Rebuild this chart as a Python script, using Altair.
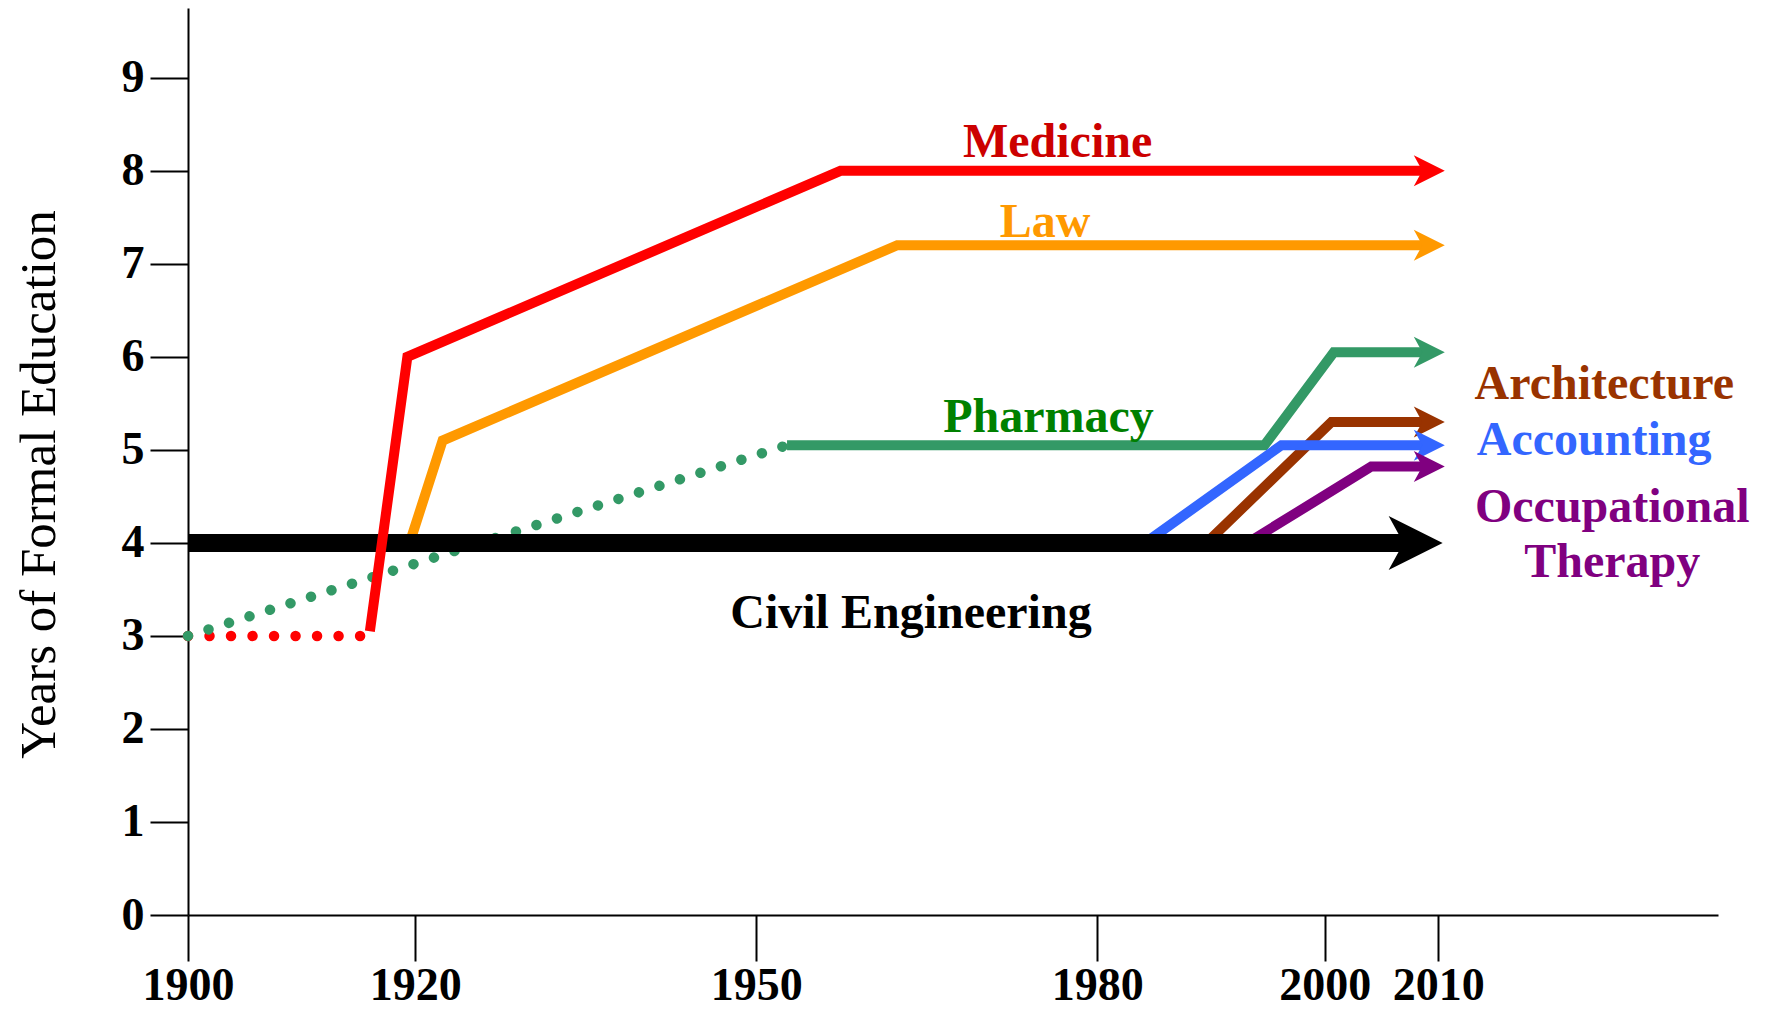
import altair as alt
import pandas as pd

# ---- data ----
series_names = ["Medicine", "Law", "Pharmacy", "Architecture", "Accounting", "Occupational Therapy", "Civil Engineering"]
line_colors = ["#ff0000", "#ff9900", "#339966", "#993300", "#3366ff", "#800080", "#000000"]

med_years = [1916.0, 1919.3, 1957.4, 2009.2]
med_vals = [3.05, 6.0, 8.0, 8.0]
med_dot_years = [1900, 1916.0]
med_dot_vals = [3.0, 3.0]

law_years = [1919.5, 1922.4, 1962.4, 2009.2]
law_vals = [4.0, 5.1, 7.2, 7.2]

pha_years = [1952.7, 1994.7, 2000.8, 2009.2]
pha_vals = [5.05, 5.05, 6.05, 6.05]
pha_dot_years = [1900, 1952.7]
pha_dot_vals = [3.0, 5.05]

arc_years = [1989.6, 2000.6, 2009.2]
arc_vals = [4.0, 5.3, 5.3]

acc_years = [1984.2, 1996.2, 2009.2]
acc_vals = [4.0, 5.05, 5.05]

ot_years = [1993.2, 2004.1, 2009.2]
ot_vals = [4.0, 4.82, 4.82]

civ_years = [1900, 2008.0]
civ_vals = [4.0, 4.0]

arrow_series = ["Medicine", "Law", "Pharmacy", "Architecture", "Accounting", "Occupational Therapy"]
arrow_years = [2009.2, 2009.2, 2009.2, 2009.2, 2009.2, 2009.2]
arrow_vals = [8.0, 7.2, 6.05, 5.3, 5.05, 4.82]
civ_arrow_year = [2008.0]
civ_arrow_val = [4.0]

label_texts = ["Medicine", "Law", "Pharmacy", "Civil Engineering", "Architecture", "Accounting", "Occupational", "Therapy"]
label_years = [1976.5, 1975.4, 1975.7, 1963.6, 2024.6, 2023.7, 2025.3, 2025.3]
label_vals = [8.15, 7.29, 5.19, 3.08, 5.55, 4.95, 4.23, 3.63]
label_colors = ["#cc0000", "#ff9900", "#008000", "#000000", "#993300", "#3366ff", "#800080", "#800080"]

x_ticks = [1900, 1920, 1950, 1980, 2000, 2010]
y_ticks = [0, 1, 2, 3, 4, 5, 6, 7, 8, 9]


def seg(name, ys, vs):
    return pd.DataFrame({"series": name, "year": ys, "value": vs, "i": list(range(len(ys)))})


solid_other = pd.concat([
    seg("Law", law_years, law_vals),
    seg("Pharmacy", pha_years, pha_vals),
    seg("Architecture", arc_years, arc_vals),
    seg("Accounting", acc_years, acc_vals),
    seg("Occupational Therapy", ot_years, ot_vals),
])
med_solid = seg("Medicine", med_years, med_vals)
med_dot = seg("Medicine", med_dot_years, med_dot_vals)
pha_dot = seg("Pharmacy", pha_dot_years, pha_dot_vals)
civ = seg("Civil Engineering", civ_years, civ_vals)
arrows = pd.DataFrame({"series": arrow_series, "year": arrow_years, "value": arrow_vals})
civ_arrow = pd.DataFrame({"series": ["Civil Engineering"], "year": civ_arrow_year, "value": civ_arrow_val})
labels = pd.DataFrame({"text": label_texts, "year": label_years, "value": label_vals, "color": label_colors})

FONT = "Liberation Serif"

xscale = alt.Scale(domain=[1900, 2034.6], nice=False, zero=False)
yscale = alt.Scale(domain=[0, 9.75], nice=False, zero=True)
cscale = alt.Scale(domain=series_names, range=line_colors)

X = alt.X("year:Q", scale=xscale, axis=alt.Axis(
    values=x_ticks, format="d", title=None, grid=False,
    tickSize=46, tickWidth=2, tickColor="black", domainColor="black", domainWidth=2,
    labelFont=FONT, labelFontWeight="bold", labelFontSize=46, labelColor="black",
    labelPadding=2, labelFlush=False, labelOverlap=False))
Y = alt.Y("value:Q", scale=yscale, axis=alt.Axis(
    values=y_ticks, format="d", title="Years of Formal Education", grid=False,
    tickSize=38, tickWidth=2, tickColor="black", domainColor="black", domainWidth=2,
    labelFont=FONT, labelFontWeight="bold", labelFontSize=46, labelColor="black",
    labelPadding=6, labelFlush=False, labelOverlap=False,
    titleFont=FONT, titleFontWeight="normal", titleFontSize=51, titleColor="black",
    titleAngle=270, titleX=-149, titleY=476, titleAlign="center", titleBaseline="middle"))
C = alt.Color("series:N", scale=cscale, legend=None)

base_line_kw = dict(strokeJoin="miter", strokeMiterLimit=10)

l_other = alt.Chart(solid_other).mark_line(strokeWidth=10, **base_line_kw).encode(
    x=X, y=Y, color=C, detail="series:N", order="i:Q")
l_dots = alt.Chart(pd.concat([med_dot, pha_dot])).mark_line(
    strokeWidth=10.5, strokeCap="round", strokeDash=[0.01, 21.5]).encode(
    x=X, y=Y, color=C, detail="series:N", order="i:Q")
l_civ = alt.Chart(civ).mark_line(strokeWidth=18).encode(x=X, y=Y, color=C, order="i:Q")
l_med = alt.Chart(med_solid).mark_line(strokeWidth=10, **base_line_kw).encode(
    x=X, y=Y, color=C, order="i:Q")

arrow_path = "M 1 0 L -1 -1 L -0.45 0 L -1 1 Z"
p_arrows = alt.Chart(arrows).mark_point(shape=arrow_path, filled=True, size=961, opacity=1, strokeWidth=0).encode(
    x=X, y=Y, color=C)
p_civ_arrow = alt.Chart(civ_arrow).mark_point(shape=arrow_path, filled=True, size=2916, opacity=1, strokeWidth=0).encode(
    x=X, y=Y, color=C)

t_labels = alt.Chart(labels).mark_text(font=FONT, fontWeight="bold", fontSize=48, align="center", baseline="alphabetic").encode(
    x=X, y=Y, text="text:N", color=alt.Color("color:N", scale=None))

chart = alt.layer(l_other, l_dots, l_civ, l_med, p_arrows, p_civ_arrow, t_labels).properties(
    width=1530, height=907,
    background="white",
    autosize=alt.AutoSizeParams(type="none"),
    padding={"left": 180, "top": 0, "right": 40, "bottom": 94},
).configure_view(stroke=None)

chart.save("out.html", embed_options={"renderer": "svg", "actions": False})
